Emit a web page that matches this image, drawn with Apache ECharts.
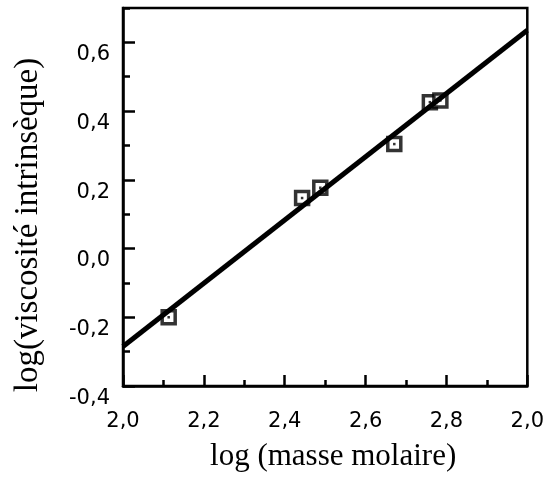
<!DOCTYPE html>
<html>
<head>
<meta charset="utf-8">
<script src="https://cdn.jsdelivr.net/npm/echarts@6/dist/echarts.min.js"></script>
<style>html,body{margin:0;padding:0;background:#fff}#c{width:547px;height:481px}</style>
</head>
<body>
<div id="c"></div>
<script>
// Data
const logMass = [2.113, 2.443, 2.488, 2.671, 2.759, 2.785];
const logVisc = [-0.200, 0.147, 0.177, 0.304, 0.426, 0.431];
const fitX = [2.0, 3.0];
const fitY = [-0.285, 0.635];
const xTickValues = [2.0, 2.2, 2.4, 2.6, 2.8, 3.0];
const xTickLabels = ['2,0', '2,2', '2,4', '2,6', '2,8', '2,0'];
const yTickValues = [-0.4, -0.2, 0.0, 0.2, 0.4, 0.6];
const yTickLabels = ['-0,4', '-0,2', '0,0', '0,2', '0,4', '0,6'];

const points = logMass.map((x, i) => [x, logVisc[i]]);
const fitLine = fitX.map((x, i) => [x, fitY[i]]);

function lookup(values, labels, v) {
  for (let i = 0; i < values.length; i++) if (Math.abs(values[i] - v) < 1e-6) return labels[i];
  return '';
}

const labelFont = { fontFamily: 'DejaVu Sans', fontSize: 21, color: '#000' };
const xTitleFont = { fontFamily: 'Liberation Serif', fontSize: 31, color: '#000', padding: [0, 0, 0, 16] };
const yTitleFont = { fontFamily: 'Liberation Serif', fontSize: 33, color: '#000', padding: [0, 56, 0, 0] };

const chart = echarts.init(document.getElementById('c'), null, { renderer: 'canvas' });
chart.setOption({
  backgroundColor: '#fff',
  animation: false,
  grid: { left: 123, right: 19, top: 8, bottom: 95, show: true, borderColor: '#000', borderWidth: 2.5, backgroundColor: 'transparent' },
  xAxis: [
    {
      type: 'value', min: 2.0, max: 3.0, interval: 0.2,
      name: 'log (masse molaire)', nameLocation: 'middle', nameGap: 55,
      nameTextStyle: xTitleFont,
      axisLine: { show: true, onZero: false, lineStyle: { color: '#000', width: 2.5 } },
      axisTick: { show: true, inside: true, length: 11, lineStyle: { color: '#000', width: 2.5 } },
      axisLabel: Object.assign({ margin: 25, formatter: v => lookup(xTickValues, xTickLabels, v) }, labelFont),
      splitLine: { show: false }
    },
    {
      type: 'value', min: 2.0, max: 3.0, interval: 0.1, position: 'bottom',
      axisLine: { show: false, onZero: false },
      axisTick: { show: true, inside: true, length: 6, lineStyle: { color: '#000', width: 2.5 } },
      axisLabel: { show: false },
      splitLine: { show: false }
    }
  ],
  yAxis: [
    {
      type: 'value', min: -0.4, max: 0.7, interval: 0.2,
      name: 'log(viscosité intrinsèque)', nameLocation: 'middle', nameGap: 78,
      nameTextStyle: yTitleFont,
      axisLine: { show: true, onZero: false, lineStyle: { color: '#000', width: 2.5 } },
      axisTick: { show: true, inside: true, length: 12, lineStyle: { color: '#000', width: 2.5 } },
      axisLabel: Object.assign({ margin: 13, showMaxLabel: false, verticalAlign: 'top', padding: [2, 0, 0, 0], formatter: v => lookup(yTickValues, yTickLabels, v) }, labelFont),
      splitLine: { show: false }
    },
    {
      type: 'value', min: -0.4, max: 0.7, interval: 0.1, position: 'left',
      axisLine: { show: false, onZero: false },
      axisTick: { show: true, inside: true, length: 7, lineStyle: { color: '#000', width: 2.5 } },
      axisLabel: { show: false },
      splitLine: { show: false }
    }
  ],
  series: [
    {
      type: 'scatter', data: points, symbol: 'rect', symbolSize: 13, z: 2,
      itemStyle: { color: '#fff', borderColor: '#000', borderWidth: 3.5 }
    },
    {
      type: 'scatter', data: points, symbol: 'rect', symbolSize: 2.5, z: 3,
      itemStyle: { color: '#000' }
    },
    {
      type: 'line', data: fitLine, showSymbol: false, symbol: 'none', z: 4,
      lineStyle: { color: '#000', width: 5 }
    }
  ]
});
</script>
</body>
</html>
